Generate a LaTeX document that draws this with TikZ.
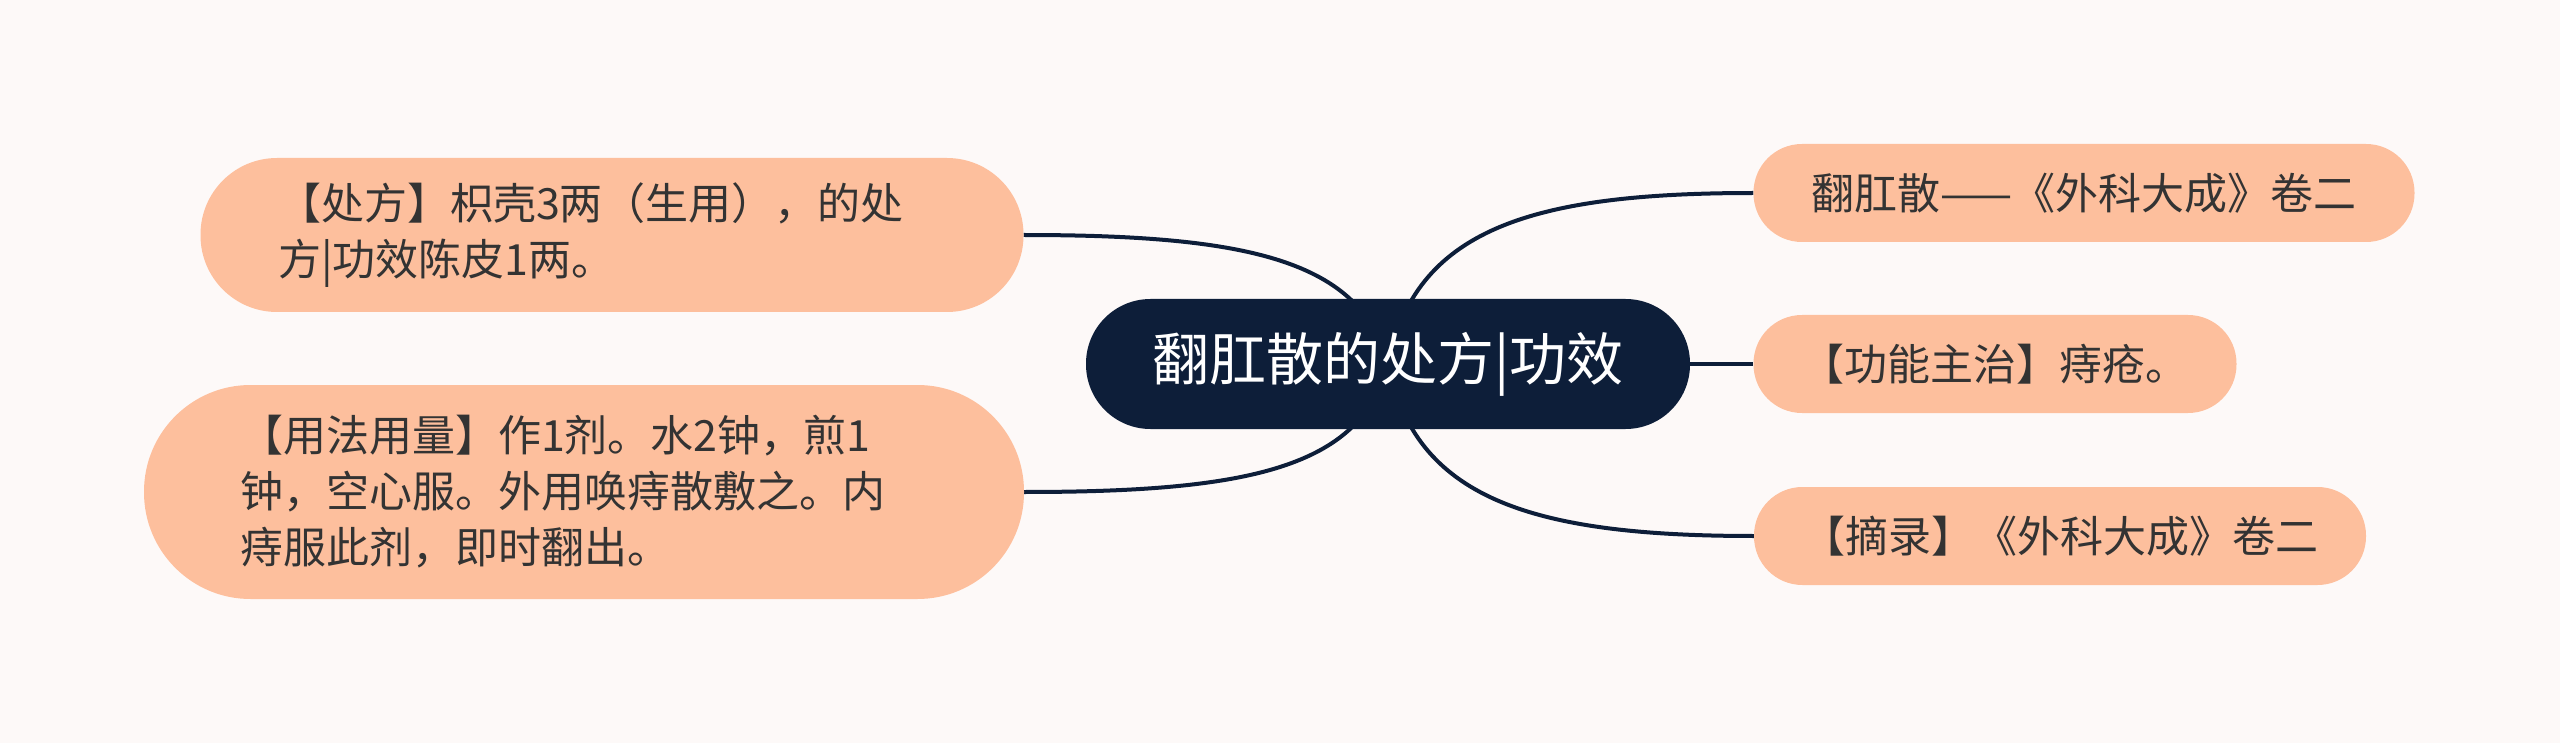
\documentclass[tikz,border=0pt]{standalone}
\usepackage{fontspec}
\setmainfont{Noto Sans CJK SC}
\usetikzlibrary{calc}
\pgfdeclarelayer{bg}
\pgfsetlayers{bg,main}
\definecolor{bgc}{RGB}{253,249,248}
\definecolor{peach}{RGB}{253,191,157}
\definecolor{navy}{RGB}{13,30,57}
\definecolor{txt}{RGB}{51,51,51}
\begin{document}
\begin{tikzpicture}[x=1pt,y=-1pt,
  childbox/.style={draw=none, fill=peach, text=txt, font=\fontsize{43}{56}\selectfont, inner sep=0pt},
  rootbox/.style={draw=none, fill=navy, text=white, font=\fontsize{57}{64}\selectfont, inner sep=0pt},
  link/.style={draw=navy, line width=4pt},
]
\begin{pgfonlayer}{bg}
\fill[bgc] (0,0) rectangle (2560,743);
\end{pgfonlayer}
\useasboundingbox (0,0) rectangle (2560,743);

\node[rootbox, minimum width=604pt, minimum height=130pt, rounded corners=64.5pt] (root) at (1388,364) {翻肛散的处方|功效};

\node[childbox, minimum width=823pt, minimum height=154pt, rounded corners=76.5pt, text width=668pt, align=left] (lt) at (612,235) {【处方】枳壳3两（生用），的处\\方|功效陈皮1两。};

\node[childbox, minimum width=880pt, minimum height=214pt, rounded corners=106.5pt, text width=688pt, align=left] (lb) at (584,492) {【用法用量】作1剂。水2钟，煎1\\钟，空心服。外用唤痔散敷之。内\\痔服此剂，即时翻出。};

\node[childbox, minimum width=661pt, minimum height=98pt, rounded corners=48.5pt] (rt) at (2084,193) {翻肛散——《外科大成》卷二};
\node[childbox, minimum width=483pt, minimum height=98pt, rounded corners=48.5pt] (rm) at (1995,364) {【功能主治】痔疮。};
\node[childbox, minimum width=612pt, minimum height=98pt, rounded corners=48.5pt] (rb) at (2060,536) {【摘录】《外科大成》卷二};

\begin{pgfonlayer}{bg}
\draw[link] (root.center) .. controls +(-27,-104) and +(224,0) .. (lt.east);
\draw[link] (root.center) .. controls +(-27,104) and +(224,0) .. (lb.east);
\draw[link] (root.center) .. controls +(27,-134) and +(-224,0) .. (rt.west);
\draw[link] (root.center) .. controls +(27,134) and +(-224,0) .. (rb.west);
\draw[link] (root.east) -- (rm.west);
\end{pgfonlayer}
\end{tikzpicture}
\end{document}
